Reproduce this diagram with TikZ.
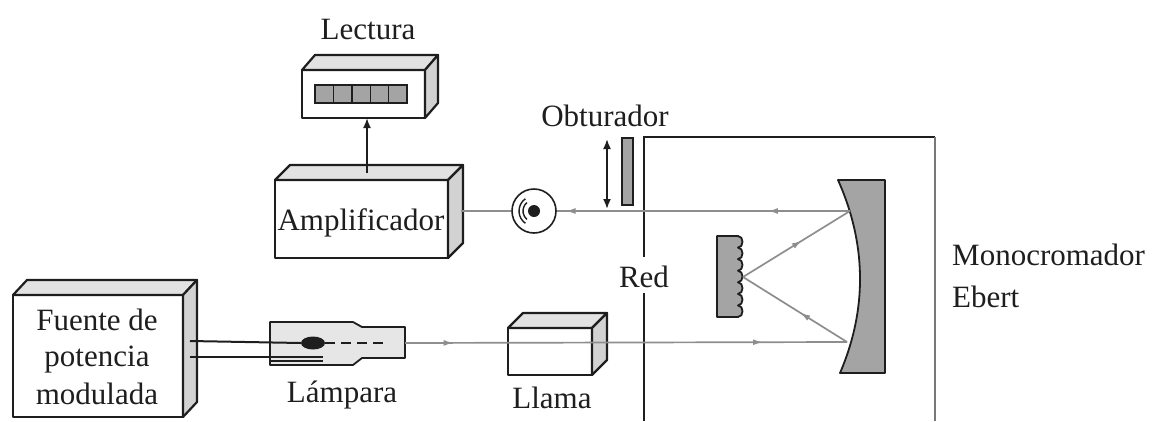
\documentclass[tikz,border=0pt]{standalone}
\usepackage{fontspec}
\setmainfont{Liberation Serif}
\usetikzlibrary{calc,arrows.meta,decorations.markings,shapes.geometric}
\definecolor{topgray}{HTML}{E2E2E2}
\definecolor{sidegray}{HTML}{D2D2D2}
\definecolor{partgray}{HTML}{A4A4A4}
\definecolor{beamgray}{HTML}{8E8E8E}
\definecolor{ink}{HTML}{1E1E1E}
\definecolor{lampgray}{HTML}{E6E6E6}
\newcommand{\cuboidfaces}[3]{%
  \draw[boxline,fill=topgray] (#1.north west) -- ++(#2,-#3) -- ($(#1.north east)+(#2,-#3)$) -- (#1.north east) -- cycle;
  \draw[boxline,fill=sidegray] (#1.north east) -- ($(#1.north east)+(#2,-#3)$) -- ($(#1.south east)+(#2,-#3)$) -- (#1.south east) -- cycle;}
\begin{document}
\begin{tikzpicture}[x=1pt,y=-1pt,
  boxline/.style={draw=ink,line width=2.2pt,line join=round},
  frontbox/.style={boxline,fill=white,rectangle,inner sep=0pt,outer sep=0pt},
  lbl/.style={font=\fontsize{31}{36}\selectfont,text=ink,inner sep=0pt,anchor=base},
  beam/.style={draw=beamgray,line width=1.7pt},
  beamarrow/.style={postaction={decorate,decoration={markings,mark=at position #1 with {\arrow{Latex[length=10pt,width=6pt]}}}}},
  partline/.style={draw=ink,line width=1.8pt},
]
\useasboundingbox (0,0) rectangle (1156,421);

% ---------- Lectura (display) ----------
\node[frontbox,minimum width=123pt,minimum height=48pt] (display) at (363.5,94) {};
\cuboidfaces{display}{13}{15}
\foreach \i in {0,...,4}
  \draw[draw=ink,line width=1.4pt,fill=partgray] ({315+\i*18.4},85) rectangle ++(18.4,18);
\node[lbl] (lectura) at (368,39) {Lectura};

% ---------- Amplificador ----------
\node[frontbox,minimum width=173pt,minimum height=78pt] (amp) at (361.5,219) {};
\cuboidfaces{amp}{15}{15}
\node[lbl] (amptext) at (361,230) {Amplificador};
\coordinate (ampTop) at (367,173);
\draw[partline,-{Latex[length=10pt,width=8pt]}] (ampTop) -- (ampTop |- display.south);

% ---------- Fuente de potencia ----------
\node[frontbox,minimum width=170pt,minimum height=122pt] (fuente) at (98,356) {};
\cuboidfaces{fuente}{14}{15}
\node[lbl] (f1) at (97,330) {Fuente de};
\node[lbl] (f2) at (97,366) {potencia};
\node[lbl] (f3) at (97,404) {modulada};

% ---------- Lampara ----------
\draw[partline,fill=lampgray,line join=round] (270,322) -- (353,322) -- (362,327) -- (405,327) -- (405,358) -- (362,358) -- (353,365) -- (270,365) -- cycle;
\node[ellipse,fill=ink,minimum width=24pt,minimum height=13pt,inner sep=0pt] (electrode) at (313,343) {};
\draw[ink,line width=1.8pt,dash pattern=on 10pt off 6pt] (electrode.east) -- (386,343);
\coordinate (lampEnd) at (405,343);
\coordinate (w1) at (190,341);
\coordinate (w2) at (190,357);
\draw[ink,line width=2pt] (w1) -- (electrode.west);
\draw[ink,line width=2pt] (w2) -- (323,357);
\draw[ink,line width=1.2pt] (270,361) -- (323,361);
\node[lbl] (lampara) at (342,402) {Lámpara};

% ---------- Llama ----------
\node[frontbox,minimum width=84pt,minimum height=47pt] (llama) at (550,351.5) {};
\cuboidfaces{llama}{15}{15}
\node[lbl] (llamatext) at (552,408) {Llama};

% ---------- Monocromador ----------
\draw[ink,line width=2.2pt] (644,421) -- (644,293);
\draw[ink,line width=2.2pt] (644,257) -- (644,137) -- (935,137);
\draw[draw=ink!60,line width=2.4pt] (935,137) -- (935,421);
\node[lbl] (red) at (644,287) {Red};
\node[lbl,anchor=base west] (mono1) at (952,265) {Monocromador};
\node[lbl,anchor=base west] (mono2) at (952,307) {Ebert};

% concave mirror
\draw[partline,fill=partgray,line join=round] (838,180) -- (885,180) -- (885,373) -- (840,373)
  .. controls (867,310) and (867,245) .. (838,180) -- cycle;
% grating
\draw[partline,fill=partgray,line join=round] (717,236) -- (738,236)
  .. controls (744,236) and (744,247.6) .. (738,247.6)
  .. controls (744,247.6) and (744,259.1) .. (738,259.1)
  .. controls (744,259.1) and (744,270.7) .. (738,270.7)
  .. controls (744,270.7) and (744,282.3) .. (738,282.3)
  .. controls (744,282.3) and (744,293.9) .. (738,293.9)
  .. controls (744,293.9) and (744,305.4) .. (738,305.4)
  .. controls (744,305.4) and (744,317) .. (738,317)
  -- (717,317) -- cycle;

\coordinate (m1) at (847,342);
\coordinate (m2) at (850,211);
\coordinate (g) at (743,277);

% ---------- Detector ----------
\node[circle,draw=ink,line width=1.6pt,minimum size=44pt,inner sep=0pt] (det) at (534,211) {};
\fill[ink] (det.center) circle[radius=6pt];
\draw[ink,line width=1.4pt] ($(det.center)+(130:11pt)$) arc[start angle=130,end angle=230,radius=11pt];
\draw[ink,line width=1.4pt] ($(det.center)+(125:15pt)$) arc[start angle=125,end angle=235,radius=15pt];
\coordinate (ampOut) at (461,211);

% ---------- Obturador ----------
\node[draw=ink,line width=1.6pt,fill=partgray,minimum width=11pt,minimum height=67pt,inner sep=0pt] (shutter) at (627.5,171.5) {};
\coordinate (sa) at (607,139);
\coordinate (sb) at (607,209);
\draw[partline,{Latex[length=10pt,width=8pt]}-{Latex[length=10pt,width=8pt]}] (sa) -- (sb);
\node[lbl] (obturador) at (605,126) {Obturador};

% ---------- beams ----------
\draw[beam] (ampOut) -- (det.west);
\draw[beam,beamarrow=0.11,beamarrow=0.81] (lampEnd) -- (m1);
\draw[beam,beamarrow=0.45] (m1) -- (g);
\draw[beam,beamarrow=0.55] (g) -- (m2);
\draw[beam,beamarrow=0.28,beamarrow=0.97] (m2) -- (det.east);
\end{tikzpicture}
\end{document}
